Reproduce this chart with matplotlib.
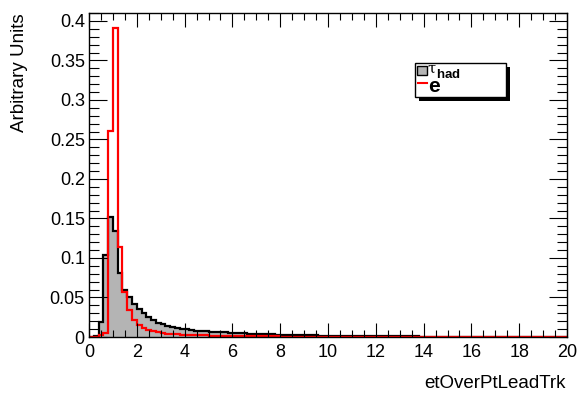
import numpy as np
import matplotlib.pyplot as plt
from matplotlib.patches import Rectangle
from matplotlib.lines import Line2D
from matplotlib.ticker import MultipleLocator

plt.rcParams['font.family'] = ['Liberation Sans', 'DejaVu Sans']
plt.rcParams['mathtext.fontset'] = 'custom'
plt.rcParams['mathtext.rm'] = 'Liberation Sans'
plt.rcParams['mathtext.bf'] = 'Liberation Sans:bold'

# 100 bins of width 0.2 between 0 and 20
edges = np.linspace(0, 20, 101)

tau_had = [
    0.0, 0.001, 0.0194, 0.104, 0.152, 0.134, 0.081, 0.060, 0.051, 0.042,
    0.035, 0.030, 0.025, 0.021, 0.018, 0.016, 0.014, 0.0125, 0.011, 0.0100,
    0.0095, 0.0088, 0.0082, 0.0078, 0.0073, 0.0068, 0.0064, 0.0060, 0.0057, 0.0054,
    0.0050, 0.0047, 0.0045, 0.0042, 0.0040, 0.0038, 0.0036, 0.0034, 0.0032, 0.0030,
    0.0028, 0.0027, 0.0025, 0.0024, 0.0023, 0.0022, 0.0020, 0.0019, 0.0018, 0.0017,
    0.0016, 0.0015, 0.0015, 0.0014, 0.0013, 0.0013, 0.0012, 0.0011, 0.0011, 0.0010,
    0.0010, 0.0009, 0.0009, 0.0008, 0.0008, 0.0008, 0.0007, 0.0007, 0.0007, 0.0006,
    0.0006, 0.0006, 0.0005, 0.0005, 0.0005, 0.0005, 0.0004, 0.0004, 0.0004, 0.0004,
    0.0004, 0.0003, 0.0003, 0.0003, 0.0003, 0.0003, 0.0003, 0.0003, 0.0002, 0.0002,
    0.0002, 0.0002, 0.0002, 0.0002, 0.0002, 0.0002, 0.0001, 0.0001, 0.0001, 0.0001,
]

electron = [
    0.0, 0.0, 0.0025, 0.0055, 0.261, 0.3905, 0.114, 0.057, 0.034, 0.022,
    0.015, 0.011, 0.0088, 0.0070, 0.0058, 0.0050, 0.0043, 0.0038, 0.0034, 0.0030,
    0.0027, 0.0025, 0.0023, 0.0021, 0.0019, 0.0018, 0.0016, 0.0015, 0.0014, 0.0013,
    0.0012, 0.0011, 0.0011, 0.0010, 0.0009, 0.0009, 0.0008, 0.0008, 0.0007, 0.0007,
    0.0006, 0.0006, 0.0006, 0.0006, 0.0006, 0.0005, 0.0005, 0.0005, 0.0005, 0.0005,
    0.0005, 0.0004, 0.0004, 0.0004, 0.0004, 0.0004, 0.0003, 0.0003, 0.0003, 0.0003,
    0.0003, 0.0003, 0.0003, 0.0002, 0.0002, 0.0002, 0.0002, 0.0002, 0.0002, 0.0002,
    0.0002, 0.0002, 0.0001, 0.0001, 0.0001, 0.0001, 0.0001, 0.0001, 0.0001, 0.0001,
    0.0001, 0.0001, 0.0001, 0.0001, 0.0001, 0.0001, 0.0001, 0.0001, 0.0001, 0.0001,
    0.0001, 0.0001, 0.0001, 0.0001, 0.0001, 0.0001, 0.0001, 0.0001, 0.0001, 0.0001,
]

W, H = 579, 394
fig = plt.figure(figsize=(W / 100, H / 100), dpi=100)


def px(x, y):
    # pixel position -> figure fraction
    return x / W, 1 - y / H


ax = fig.add_axes([89 / W, 1 - 337 / H, (567 - 89) / W, (337 - 13) / H])

ax.stairs(tau_had, edges, fill=True, color='#b4b4b4', lw=0)
ax.stairs(tau_had, edges, color='black', lw=1.6, baseline=0)
ax.stairs(electron, edges, color='red', lw=1.6, baseline=0)

ax.set_xlim(0, 20)
ax.set_ylim(0, 0.41)
ax.xaxis.set_major_locator(MultipleLocator(2))
ax.xaxis.set_minor_locator(MultipleLocator(0.5))
ax.yaxis.set_major_locator(MultipleLocator(0.05))
ax.yaxis.set_minor_locator(MultipleLocator(0.01))
ax.yaxis.set_major_formatter(plt.FuncFormatter(lambda v, p: ('%g' % round(v, 3))))

ax.tick_params(which='both', direction='in', top=True, right=True, width=0.8,
               labelsize=13, colors='black')
ax.tick_params(axis='x', which='major', length=10, pad=5)
ax.tick_params(axis='x', which='minor', length=5)
ax.tick_params(axis='y', which='major', length=13, pad=3)
ax.tick_params(axis='y', which='minor', length=7)
for s in ax.spines.values():
    s.set_linewidth(1)

fig.text(*px(20, 13), 'Arbitrary Units', rotation=90, ha='center', va='top',
         fontsize=13.5)
fig.text(*px(566, 383), 'etOverPtLeadTrk', ha='right', va='center',
         fontsize=13.5)

# legend box with drop shadow
x0, y0 = px(415, 97)
x1, y1 = px(506, 63)
sx, sy = 4 / W, 4 / H
fig.patches.append(Rectangle((x0 + sx, y0 - sy), x1 - x0, y1 - y0,
                             transform=fig.transFigure, color='black', lw=0))
fig.patches.append(Rectangle((x0, y0), x1 - x0, y1 - y0, transform=fig.transFigure,
                             facecolor='white', edgecolor='black', lw=1))
gx0, gy0 = px(417, 74.5)
gx1, gy1 = px(427, 66.5)
fig.patches.append(Rectangle((gx0, gy0), gx1 - gx0, gy1 - gy0, transform=fig.transFigure,
                             facecolor='#b4b4b4', edgecolor='black', lw=1))
lx0, ly = px(418, 82.5)
lx1, _ = px(427, 82.5)
fig.lines.append(Line2D([lx0, lx1], [ly, ly], transform=fig.transFigure,
                        color='red', lw=1.5))
fig.text(*px(427.5, 68.5), '\u03c4', fontsize=10.5, family='DejaVu Serif',
         ha='left', va='center')
fig.text(*px(435.5, 77.5), r'$\mathbf{had}$', fontsize=9.5, ha='left',
         va='baseline')
fig.text(*px(427.5, 92), r'$\mathbf{e}$', fontsize=15, ha='left',
         va='baseline')

fig.savefig('out.png', dpi=100)
